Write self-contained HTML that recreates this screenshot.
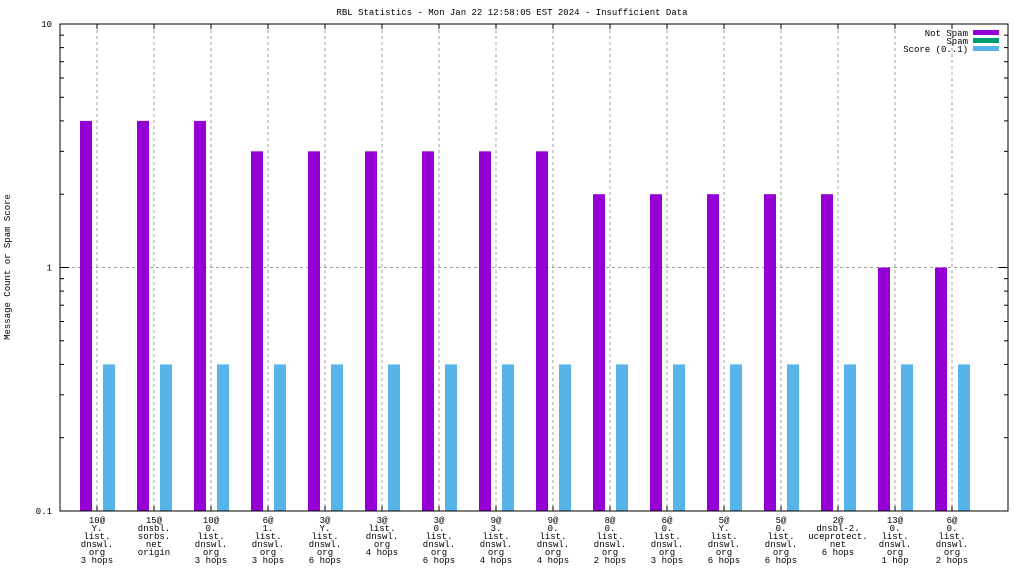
<!DOCTYPE html>
<html><head><meta charset="utf-8"><style>
body{margin:0;background:#fff}
svg text{font-family:"Liberation Mono","DejaVu Sans Mono",monospace;font-size:9px;fill:#000}
</style></head><body>
<svg id="c" width="1024" height="576"></svg>
<script>
const categories=[["10@","Y.","list.","dnswl.","org","3 hops"],["15@","dnsbl.","sorbs.","net","origin"],["10@","0.","list.","dnswl.","org","3 hops"],["6@","1.","list.","dnswl.","org","3 hops"],["3@","Y.","list.","dnswl.","org","6 hops"],["3@","list.","dnswl.","org","4 hops"],["3@","0.","list.","dnswl.","org","6 hops"],["9@","3.","list.","dnswl.","org","4 hops"],["9@","0.","list.","dnswl.","org","4 hops"],["8@","0.","list.","dnswl.","org","2 hops"],["6@","0.","list.","dnswl.","org","3 hops"],["5@","Y.","list.","dnswl.","org","6 hops"],["5@","0.","list.","dnswl.","org","6 hops"],["2@","dnsbl-2.","uceprotect.","net","6 hops"],["13@","0.","list.","dnswl.","org","1 hop"],["6@","0.","list.","dnswl.","org","2 hops"]];
const notSpam=[4,4,4,3,3,3,3,3,3,2,2,2,2,2,1,1];
const spam=[0,0,0,0,0,0,0,0,0,0,0,0,0,0,0,0];
const score=[0.4,0.4,0.4,0.4,0.4,0.4,0.4,0.4,0.4,0.4,0.4,0.4,0.4,0.4,0.4,0.4];
const yTicks=[0.1,1,10];
const NS="http://www.w3.org/2000/svg";
const svg=document.getElementById('c');
const L=60,R=1008,T=24,B=511;
const y=v=>B-(Math.log10(v)+1)/2*(B-T);
const x=i=>97+57*i;
function el(t,a,txt){const e=document.createElementNS(NS,t);for(const k in a)e.setAttribute(k,a[k]);if(txt!=null)e.textContent=txt;svg.appendChild(e);return e;}
let e=el('text',{x:512,y:15,'text-anchor':'middle'},'RBL Statistics - Mon Jan 22 12:58:05 EST 2024 - Insufficient Data');

e=el('text',{x:10,y:267,'text-anchor':'middle',transform:'rotate(-90 10 267)'},'Message Count or Spam Score');

// grid
categories.forEach((c,i)=>{e=el('line',{x1:x(i),x2:x(i),y1:T,y2:B,stroke:'#a0a0a0','stroke-dasharray':'3,3'});
});
e=el('line',{x1:L,x2:R,y1:y(1),y2:y(1),stroke:'#a0a0a0','stroke-dasharray':'3,3'});

// minor ticks
for(let d=0;d<2;d++)for(let m=1;m<=10;m++){const v=Math.pow(10,d-1)*m;const yy=y(v);const len=(m==1||m==10)?9:4;
e=el('line',{x1:L,x2:L+len,y1:yy,y2:yy,stroke:'#000'});
e=el('line',{x1:R-len,x2:R,y1:yy,y2:yy,stroke:'#000'});}
yTicks.forEach(v=>{e=el('text',{x:L-8,y:y(v)+3,'text-anchor':'end'},String(v));
});
// bars
categories.forEach((c,i)=>{
 e=el('rect',{x:x(i)-17,y:y(notSpam[i]),width:12,height:B-y(notSpam[i]),fill:'#9400d3'});
 
 if(spam[i]>0){e=el('rect',{x:x(i)-6,y:y(spam[i]),width:12,height:B-y(spam[i]),fill:'#009e73'});
 }
 e=el('rect',{x:x(i)+6,y:y(score[i]),width:12,height:B-y(score[i]),fill:'#56b4e9'});
 
 e=el('line',{x1:x(i),x2:x(i),y1:B,y2:B-5,stroke:'#000'});
 e=el('line',{x1:x(i),x2:x(i),y1:T,y2:T+5,stroke:'#000'});
 c.forEach((s,j)=>{e=el('text',{x:x(i),y:523+j*8,'text-anchor':'middle'},s);
 });
});
e=el('rect',{x:L,y:T,width:R-L,height:B-T,fill:'none',stroke:'#000'});

[['Not Spam','#9400d3'],['Spam','#009e73'],['Score (0..1)','#56b4e9']].forEach((l,j)=>{
 e=el('text',{x:968,y:36+j*8,'text-anchor':'end'},l[0]);
 e=el('rect',{x:973,y:30+j*8,width:26,height:5,fill:l[1]});
});
</script>
</body></html>
